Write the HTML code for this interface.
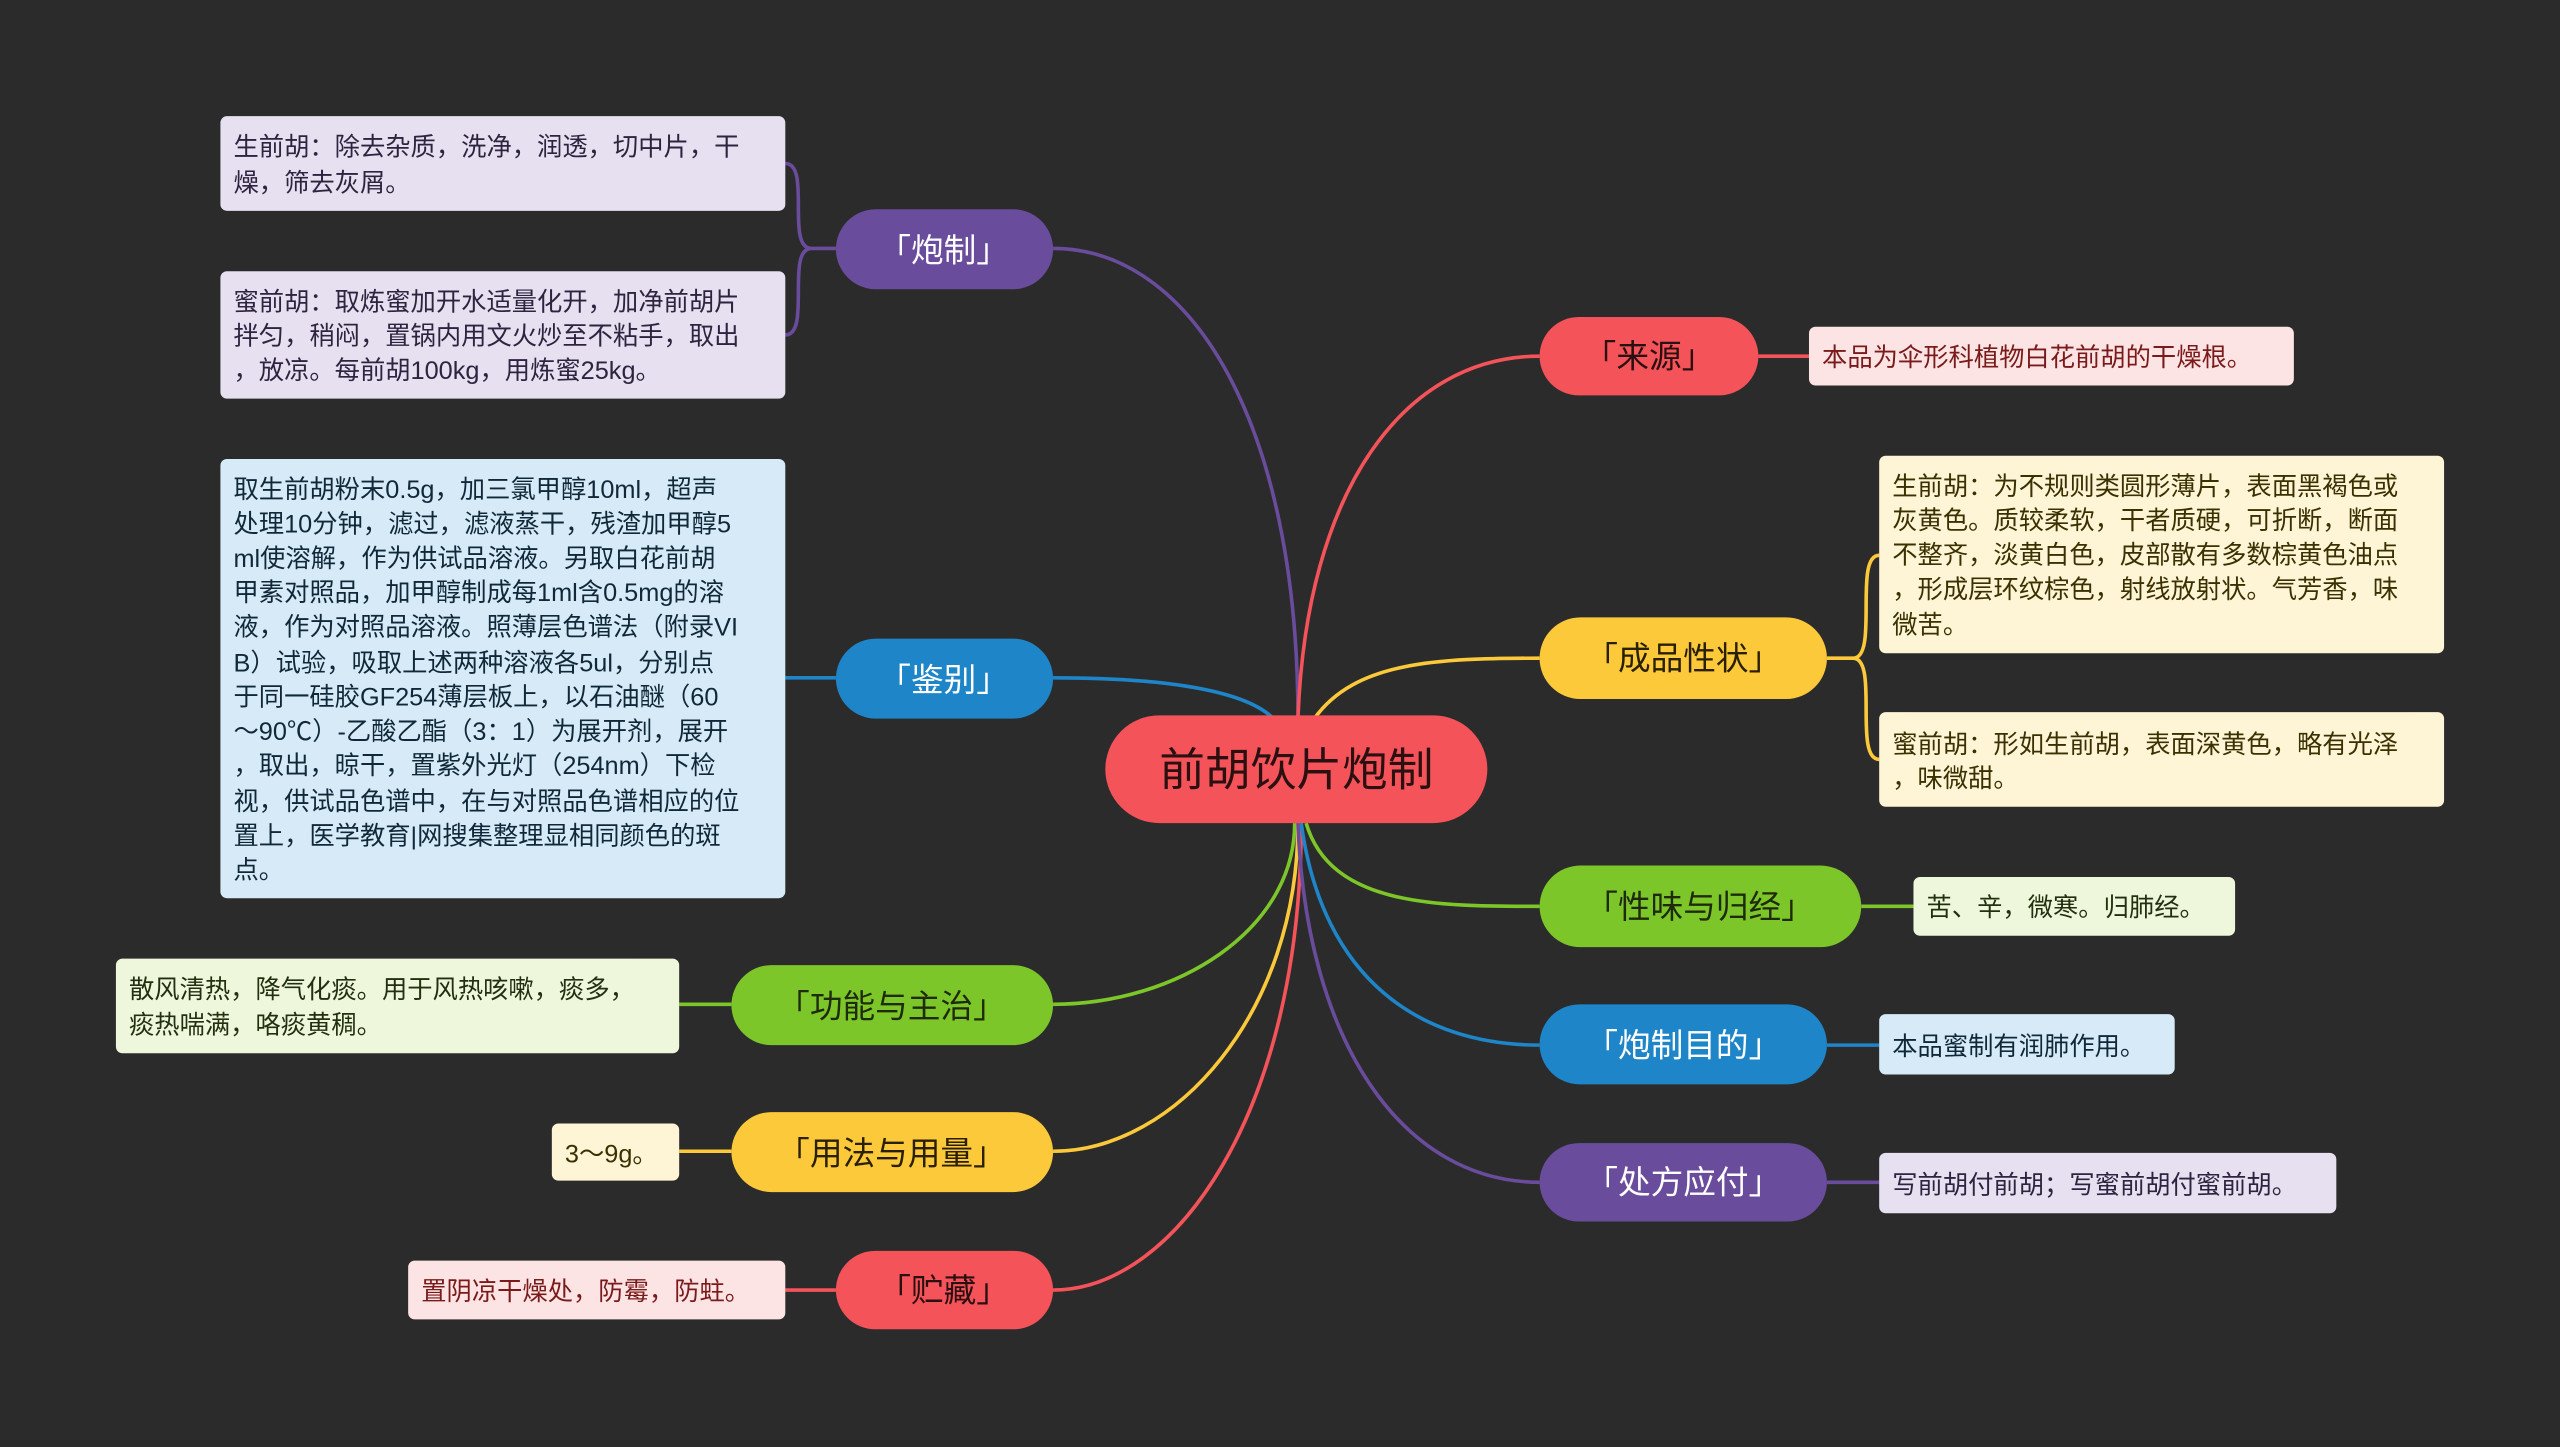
<!DOCTYPE html>
<html><head><meta charset="utf-8"><style>
html,body{margin:0;padding:0;background:#2b2b2b;}
svg{display:block;}
text{font-family:"Liberation Sans","Noto Sans CJK SC",sans-serif;}
</style></head><body>
<svg width="2560" height="1447" viewBox="0 0 1568 886" xmlns="http://www.w3.org/2000/svg">
<rect width="1568" height="886" fill="#2b2b2b"/>
<g fill="none" stroke-width="2.2">
<path d="M795 440 C795 260 730 152 645 152" stroke="#6a4c9c"/>
<path d="M780 440 C760 420 700 415 645 415" stroke="#1e85c8"/>
<path d="M793 504 C793 570 720 615 645 615" stroke="#7cc62a"/>
<path d="M795 504 C795 620 720 705 645 705" stroke="#fcc93a"/>
<path d="M797 504 C797 680 720 790 645 790" stroke="#f5535a"/>
<path d="M795 440 C800 300 860 218 943 218" stroke="#f5535a"/>
<path d="M805 440 C830 405 880 403 943 403" stroke="#fcc93a"/>
<path d="M800 504 C815 555 880 555 943 555" stroke="#7cc62a"/>
<path d="M797 504 C810 600 870 640 943 640" stroke="#1e85c8"/>
<path d="M795 504 C800 640 860 724 943 724" stroke="#6a4c9c"/>
<!-- leaf connectors -->
<path d="M512 152 L497 152 M497 152 C481 152 497 100 481 100 M497 152 C481 152 497 205 481 205" stroke="#6a4c9c"/>
<path d="M512 415 L481 415" stroke="#1e85c8"/>
<path d="M448 615 L416 615" stroke="#7cc62a"/>
<path d="M448 705 L416 705" stroke="#fcc93a"/>
<path d="M512 790 L481 790" stroke="#f5535a"/>
<path d="M1077 218 L1108 218" stroke="#f5535a"/>
<path d="M1119 403 L1135 403 M1135 403 C1151 403 1135 340 1151 340 M1135 403 C1151 403 1135 465 1151 465" stroke="#fcc93a"/>
<path d="M1140 555 L1172 555" stroke="#7cc62a"/>
<path d="M1119 640 L1151 640" stroke="#1e85c8"/>
<path d="M1119 724 L1151 724" stroke="#6a4c9c"/>
</g>
<!-- center -->
<rect x="677" y="438" width="234" height="66" rx="33" fill="#f5535a"/>
<text x="794" y="481" font-size="28" text-anchor="middle" fill="#2a1010">前胡饮片炮制</text>
<!-- pills -->
<g font-size="20" text-anchor="middle">
<rect x="512" y="128" width="133" height="49" rx="24.5" fill="#6a4c9c"/><text x="578" y="160" fill="#fff">「炮制」</text>
<rect x="512" y="391" width="133" height="49" rx="24.5" fill="#1e85c8"/><text x="578" y="423" fill="#fff">「鉴别」</text>
<rect x="448" y="591" width="197" height="49" rx="24.5" fill="#7cc62a"/><text x="546" y="623" fill="#1e2a0a">「功能与主治」</text>
<rect x="448" y="681" width="197" height="49" rx="24.5" fill="#fcc93a"/><text x="546" y="713" fill="#2a2000">「用法与用量」</text>
<rect x="512" y="766" width="133" height="48" rx="24" fill="#f5535a"/><text x="578" y="797" fill="#2a1010">「贮藏」</text>
<rect x="943" y="194" width="134" height="48" rx="24" fill="#f5535a"/><text x="1010" y="225" fill="#2a1010">「来源」</text>
<rect x="943" y="378" width="176" height="50" rx="25" fill="#fcc93a"/><text x="1031" y="410" fill="#2a2000">「成品性状」</text>
<rect x="943" y="530" width="197" height="50" rx="25" fill="#7cc62a"/><text x="1041" y="562" fill="#1e2a0a">「性味与归经」</text>
<rect x="943" y="615" width="176" height="49" rx="24.5" fill="#1e85c8"/><text x="1031" y="647" fill="#fff">「炮制目的」</text>
<rect x="943" y="700" width="176" height="48" rx="24" fill="#6a4c9c"/><text x="1031" y="731" fill="#fff">「处方应付」</text>
</g>
<!-- leaves -->
<g font-size="15.5">
<rect x="135" y="71" width="346" height="58" rx="4" fill="#e6e0f0"/>
<text fill="#2e2440"><tspan x="143" y="95">生前胡：除去杂质，洗净，润透，切中片，干</tspan><tspan x="143" y="117">燥，筛去灰屑。</tspan></text>
<rect x="135" y="166" width="346" height="78" rx="4" fill="#e6e0f0"/>
<text fill="#2e2440"><tspan x="143" y="190">蜜前胡：取炼蜜加开水适量化开，加净前胡片</tspan><tspan x="143" y="211">拌匀，稍闷，置锅内用文火炒至不粘手，取出</tspan><tspan x="143" y="232">，放凉。每前胡100kg，用炼蜜25kg。</tspan></text>
<rect x="135" y="281" width="346" height="269" rx="4" fill="#d6ebf7"/>
<text fill="#10283a"><tspan x="143" y="305">取生前胡粉末0.5g，加三氯甲醇10ml，超声</tspan><tspan x="143" y="326">处理10分钟，滤过，滤液蒸干，残渣加甲醇5</tspan><tspan x="143" y="347">ml使溶解，作为供试品溶液。另取白花前胡</tspan><tspan x="143" y="368">甲素对照品，加甲醇制成每1ml含0.5mg的溶</tspan><tspan x="143" y="389">液，作为对照品溶液。照薄层色谱法（附录VI</tspan><tspan x="143" y="411">B）试验，吸取上述两种溶液各5ul，分别点</tspan><tspan x="143" y="432">于同一硅胶GF254薄层板上，以石油醚（60</tspan><tspan x="143" y="453">～90℃）-乙酸乙酯（3：1）为展开剂，展开</tspan><tspan x="143" y="474">，取出，晾干，置紫外光灯（254nm）下检</tspan><tspan x="143" y="496">视，供试品色谱中，在与对照品色谱相应的位</tspan><tspan x="143" y="517">置上，医学教育|网搜集整理显相同颜色的斑</tspan><tspan x="143" y="538">点。</tspan></text>
<rect x="71" y="587" width="345" height="58" rx="4" fill="#eef7dc"/>
<text fill="#223010"><tspan x="79" y="611">散风清热，降气化痰。用于风热咳嗽，痰多，</tspan><tspan x="79" y="633">痰热喘满，咯痰黄稠。</tspan></text>
<rect x="338" y="688" width="78" height="35" rx="4" fill="#fdf5d6"/>
<text x="346" y="712" fill="#3a3000">3～9g。</text>
<rect x="250" y="772" width="231" height="36" rx="4" fill="#fde4e4"/>
<text x="258" y="796" fill="#7a1a1a">置阴凉干燥处，防霉，防蛀。</text>
<rect x="1108" y="200" width="297" height="36" rx="4" fill="#fde4e4"/>
<text x="1116" y="224" fill="#7a1a1a">本品为伞形科植物白花前胡的干燥根。</text>
<rect x="1151" y="279" width="346" height="121" rx="4" fill="#fdf5d6"/>
<text fill="#3a3000"><tspan x="1159" y="303">生前胡：为不规则类圆形薄片，表面黑褐色或</tspan><tspan x="1159" y="324">灰黄色。质较柔软，干者质硬，可折断，断面</tspan><tspan x="1159" y="345">不整齐，淡黄白色，皮部散有多数棕黄色油点</tspan><tspan x="1159" y="366">，形成层环纹棕色，射线放射状。气芳香，味</tspan><tspan x="1159" y="388">微苦。</tspan></text>
<rect x="1151" y="436" width="346" height="58" rx="4" fill="#fdf5d6"/>
<text fill="#3a3000"><tspan x="1159" y="461">蜜前胡：形如生前胡，表面深黄色，略有光泽</tspan><tspan x="1159" y="482">，味微甜。</tspan></text>
<rect x="1172" y="537" width="197" height="36" rx="4" fill="#eef7dc"/>
<text x="1180" y="561" fill="#223010">苦、辛，微寒。归肺经。</text>
<rect x="1151" y="621" width="181" height="37" rx="4" fill="#d6ebf7"/>
<text x="1159" y="646" fill="#10283a">本品蜜制有润肺作用。</text>
<rect x="1151" y="706" width="280" height="37" rx="4" fill="#e6e0f0"/>
<text x="1159" y="731" fill="#2e2440">写前胡付前胡；写蜜前胡付蜜前胡。</text>
</g>
</svg>
</body></html>
